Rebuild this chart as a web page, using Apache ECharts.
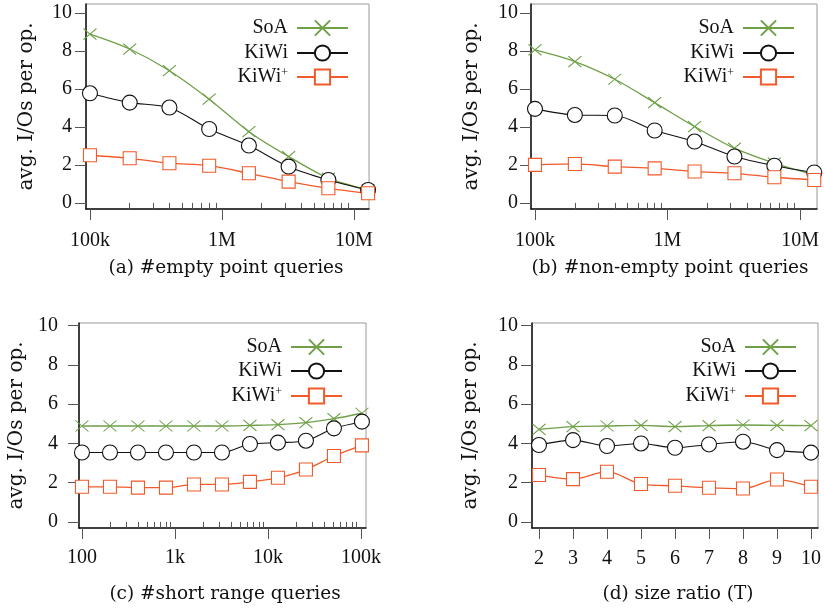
<!DOCTYPE html>
<html><head><meta charset="utf-8">
<script src="https://cdn.jsdelivr.net/npm/echarts@6/dist/echarts.min.js"></script>
<style>html,body{margin:0;padding:0;background:#fff}#c{width:824px;height:611px}</style>
</head><body><div id="c"></div>
<script>
// ---------- data ----------
const seriesNames = ['SoA', 'KiWi', 'KiWi+'];

const xA = [1e5, 2e5, 4e5, 8e5, 1.6e6, 3.2e6, 6.4e6, 1.28e7];
const soaA = [8.88, 8.10, 6.96, 5.46, 3.75, 2.44, 1.30, 0.68];
const kiwiA = [5.77, 5.28, 5.02, 3.89, 3.02, 1.91, 1.21, 0.68];
const kiwiPA = [2.51, 2.35, 2.09, 1.96, 1.56, 1.12, 0.77, 0.51];

const xB = [1e5, 2e5, 4e5, 8e5, 1.6e6, 3.2e6, 6.4e6, 1.28e7];
const soaB = [8.05, 7.44, 6.51, 5.28, 4.02, 2.88, 2.09, 1.47];
const kiwiB = [4.95, 4.63, 4.60, 3.81, 3.23, 2.44, 1.96, 1.60];
const kiwiPB = [2.00, 2.05, 1.91, 1.82, 1.65, 1.56, 1.35, 1.21];

const xC = [100, 200, 400, 800, 1600, 3200, 6400, 12800, 25600, 51200, 102400];
const soaC = [4.89, 4.89, 4.89, 4.89, 4.89, 4.89, 4.92, 4.96, 5.06, 5.26, 5.54];
const kiwiC = [3.54, 3.54, 3.54, 3.54, 3.54, 3.54, 3.97, 4.04, 4.14, 4.77, 5.11];
const kiwiPC = [1.79, 1.79, 1.75, 1.75, 1.91, 1.91, 2.04, 2.25, 2.67, 3.36, 3.90];

const xD = [2, 3, 4, 5, 6, 7, 8, 9, 10];
const soaD = [4.72, 4.86, 4.89, 4.92, 4.86, 4.91, 4.94, 4.92, 4.91];
const kiwiD = [3.92, 4.17, 3.87, 4.00, 3.78, 3.95, 4.09, 3.66, 3.53];
const kiwiPD = [2.39, 2.18, 2.56, 1.93, 1.84, 1.74, 1.70, 2.16, 1.79];

const yTicks = [0, 2, 4, 6, 8, 10];
const xTicksAB = [1e5, 1e6, 1e7];
const xTickLabelsAB = ['100k', '1M', '10M'];
const xMinorAB = [2e5, 3e5, 4e5, 5e5, 6e5, 7e5, 8e5, 9e5, 2e6, 3e6, 4e6, 5e6, 6e6, 7e6, 8e6, 9e6];
const xTicksC = [100, 1000, 10000, 100000];
const xTickLabelsC = ['100', '1k', '10k', '100k'];
const xMinorC = [200, 300, 400, 500, 600, 700, 800, 900, 2000, 3000, 4000, 5000, 6000, 7000, 8000, 9000,
                 20000, 30000, 40000, 50000, 60000, 70000, 80000, 90000];
const xTicksD = [2, 3, 4, 5, 6, 7, 8, 9, 10];
const xTickLabelsD = ['2', '3', '4', '5', '6', '7', '8', '9', '10'];

const titles = ['(a) #empty point queries', '(b) #non-empty point queries',
                '(c) #short range queries', '(d) size ratio (T)'];
const yName = 'avg. I/Os per op.';

// ---------- layout / style ----------
const colors = ['#6fa048', '#111111', '#f15a2b'];
const symbols = ['path://M0,0L10,10M10,0L0,10', 'circle', 'rect'];
const symbolSizes = [[13, 11], 15, 13];
const serifNum = 'Liberation Serif';
const serifText = 'DejaVu Serif';

const panels = [
  { grid: {left: 86, top: 4, width: 283, height: 205}, type: 'log',
    xMin: Math.pow(10, 4.970), xMax: Math.pow(10, 7.114), yMin: -0.32, yMax: 10.47,
    xs: xA, ys: [soaA, kiwiA, kiwiPA], ticks: xTicksAB, labels: xTickLabelsAB, minor: xMinorAB,
    yMargin: 14, xMargin: 22, nameGap: 49, legendRight: 475, legendTops: [18, 43, 67], title: [226, 268] },
  { grid: {left: 531, top: 4, width: 286, height: 205}, type: 'log',
    xMin: Math.pow(10, 4.970), xMax: Math.pow(10, 7.128), yMin: -0.32, yMax: 10.47,
    xs: xB, ys: [soaB, kiwiB, kiwiPB], ticks: xTicksAB, labels: xTickLabelsAB, minor: xMinorAB,
    yMargin: 13, xMargin: 22, nameGap: 49, legendRight: 29, legendTops: [18, 43, 67], title: [670, 268] },
  { grid: {left: 79, top: 323, width: 287, height: 205}, type: 'log',
    xMin: Math.pow(10, 1.968), xMax: Math.pow(10, 5.054), yMin: -0.31, yMax: 10.14,
    xs: xC, ys: [soaC, kiwiC, kiwiPC], ticks: xTicksC, labels: xTickLabelsC, minor: xMinorC,
    yMargin: 21, xMargin: 20, nameGap: 52, legendRight: 481, legendTops: [337, 361, 386], title: [225, 594] },
  { grid: {left: 532, top: 323, width: 286, height: 205}, type: 'value',
    xMin: 1.794, xMax: 10.206, yMin: -0.31, yMax: 10.14,
    xs: xD, ys: [soaD, kiwiD, kiwiPD], ticks: xTicksD, labels: xTickLabelsD, minor: null,
    yMargin: 14, xMargin: 21, nameGap: 51, legendRight: 27, legendTops: [337, 361, 386], title: [678, 594] }
];

const grids = [], xAxes = [], yAxes = [], series = [], legends = [], graphics = [];

panels.forEach((p, i) => {
  grids.push(Object.assign({show: true, borderColor: '#9a9a9a', borderWidth: 1, backgroundColor: 'transparent'}, p.grid));
  const mainIdx = xAxes.length;
  xAxes.push({
    gridIndex: i, type: p.type, logBase: 10, min: p.xMin, max: p.xMax, position: 'bottom',
    axisLine: {show: true, onZero: false, lineStyle: {color: '#111', width: 1.5}},
    axisTick: {show: true, inside: false, length: 11, customValues: p.ticks, lineStyle: {color: '#555', width: 1}},
    axisLabel: {show: true, customValues: p.ticks, margin: p.xMargin, fontFamily: serifNum, fontSize: 20, color: '#111',
      formatter: (v) => { const k = p.ticks.findIndex(t => Math.abs(t - v) / t < 1e-6); return k >= 0 ? p.labels[k] : ''; }},
    splitLine: {show: false}, minorTick: {show: false}
  });
  if (p.minor) {
    xAxes.push({
      gridIndex: i, type: 'log', logBase: 10, min: p.xMin, max: p.xMax, position: 'bottom',
      axisLine: {show: false},
      axisTick: {show: true, inside: false, length: 6, customValues: p.minor, lineStyle: {color: '#555', width: 1}},
      axisLabel: {show: false}, splitLine: {show: false}
    });
  }
  yAxes.push({
    gridIndex: i, type: 'value', min: p.yMin, max: p.yMax,
    axisLine: {show: true, onZero: false, lineStyle: {color: '#111', width: 1.5}},
    axisTick: {show: true, inside: false, length: 11, customValues: yTicks, lineStyle: {color: '#555', width: 1}},
    axisLabel: {show: true, customValues: yTicks, margin: p.yMargin, fontFamily: serifNum, fontSize: 20, color: '#111'},
    splitLine: {show: false},
    name: yName, nameLocation: 'middle', nameGap: p.nameGap,
    nameTextStyle: {fontFamily: serifText, fontSize: 20, color: '#111'}
  });
  seriesNames.forEach((nm, s) => {
    series.push({
      type: 'line', name: nm, xAxisIndex: mainIdx, yAxisIndex: i,
      data: p.xs.map((x, k) => [x, p.ys[s][k]]),
      smooth: 0.3, symbol: symbols[s], symbolSize: symbolSizes[s], showAllSymbol: true,
      lineStyle: {color: colors[s], width: s === 1 ? 1.1 : 1.3},
      itemStyle: {color: s === 0 ? colors[s] : '#ffffff', borderColor: colors[s], borderWidth: 1.1},
      emphasis: {disabled: true}, animation: false
    });
    legends.push({
      data: [nm], right: p.legendRight, top: p.legendTops[s], orient: 'horizontal', align: 'right',
      itemWidth: 51, itemHeight: 19, padding: 0, selectedMode: false,
      formatter: (n) => n === 'KiWi+' ? '{b|KiWi}{s|+}' : '{b|' + n + '}',
      textStyle: {padding: [0, 4, 0, 0], rich: {
        b: {fontFamily: serifNum, fontSize: 20, color: '#111', lineHeight: 20},
        s: {fontFamily: serifNum, fontSize: 12, color: '#111', verticalAlign: 'top', lineHeight: 11}
      }}
    });
  });
  graphics.push({
    type: 'text', x: p.title[0], y: p.title[1],
    style: {text: titles[i], align: 'center', verticalAlign: 'middle', fill: '#111',
            font: '18.5px "' + serifText + '"'}
  });
});

const chart = echarts.init(document.getElementById('c'), null, {renderer: 'canvas'});
chart.setOption({
  animation: false, backgroundColor: '#fff',
  grid: grids, xAxis: xAxes, yAxis: yAxes, series: series, legend: legends, graphic: graphics
});
</script></body></html>
